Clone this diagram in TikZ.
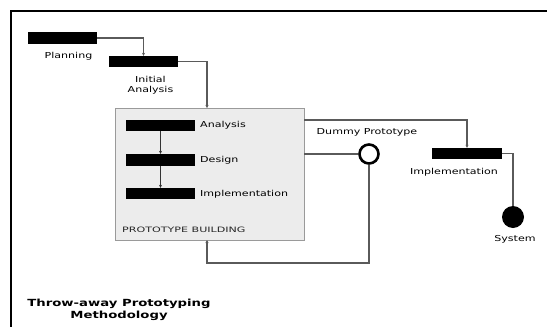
\documentclass[tikz,border=0pt]{standalone}
\usepackage{fontspec}
\setmainfont{DejaVu Sans}
\newfontfamily\diagfont[FakeStretch=1.35]{DejaVu Sans}
\newfontfamily\capsfont[FakeStretch=1.5]{DejaVu Sans}
\usetikzlibrary{arrows.meta}
\definecolor{linegray}{HTML}{5A5A5A}
\definecolor{boxfill}{HTML}{ECECEC}
\definecolor{boxline}{HTML}{9A9A9A}
\begin{document}
\begin{tikzpicture}[x=1pt,y=-1pt,
  bar/.style={fill=black,draw=none,minimum width=69pt,minimum height=11pt,inner sep=0pt},
  conn/.style={draw=linegray,line width=1.1pt},
  arr/.style={conn,-{Stealth[length=3pt,width=3pt]}},
  lbl/.style={font=\diagfont\fontsize{8.2}{9.5}\selectfont,inner sep=0pt,text=black},
  ring/.style={circle,draw=black,line width=2.6pt,fill=white,minimum size=19pt,inner sep=0pt},
  dot/.style={circle,fill=black,minimum size=22pt,inner sep=0pt}]
\useasboundingbox (0,0) rectangle (547,327);
\fill[white] (0,0) rectangle (547,327);
% frame
\draw[black,line width=2.5pt] (11,330) -- (11,11) -- (550,11);
% prototype box
\node[draw=boxline,fill=boxfill,line width=1pt,minimum width=189pt,minimum height=132pt,inner sep=0pt] (box) at (209.5,174) {};
% bars
\node[bar,minimum height=12pt] (plan) at (62.5,38) {};
\node[bar] (init) at (143.5,61.5) {};
\node[bar] (ana) at (160.5,125.5) {};
\node[bar,minimum height=12pt] (des) at (160.5,160) {};
\node[bar] (imp) at (160.5,193.5) {};
\node[bar,minimum width=70pt] (impl) at (467,153.5) {};
% circles
\node[ring] (dummy) at (369,154) {};
\node[dot] (sys) at (513,217) {};
% coordinates on box border
\coordinate (boxtop) at (207,108);
\coordinate (boxbot) at (207,240);
\coordinate (boxr1) at (304,120);
\coordinate (boxr2) at (304,154);
\coordinate (loopc) at (207,263);
% connectors
\draw[arr] (plan.east) -| (init.north);
\draw[arr] (init.east) -| (boxtop);
\draw[arr] (boxr1) -| (impl.north);
\draw[conn] (boxr2) -- (dummy.west);
\draw[arr] (dummy.south) |- (loopc) -- (boxbot);
\draw[conn] (impl.east) -| (sys.north);
\draw[arr,draw=black!80] (ana.south) -- (des.north);
\draw[arr,draw=black!80] (des.south) -- (imp.north);
% labels
\node[lbl] (lplan) at (68.5,56) {Planning};
\node[lbl,align=center] (linit) at (150.5,85) {Initial\\Analysis};
\node[lbl,anchor=west] (lana) at (200,125.5) {Analysis};
\node[lbl,anchor=west] (ldes) at (200,160) {Design};
\node[lbl,anchor=west] (limp) at (200,194) {Implementation};
\node[font=\capsfont\fontsize{7.4}{8}\selectfont,inner sep=0pt,anchor=west,text=black!85] (lpb) at (122,230) {PROTOTYPE BUILDING};
\node[lbl] (ldummy) at (367,132) {Dummy Prototype};
\node[lbl] (limpl) at (454,172) {Implementation};
\node[lbl] (lsys) at (515,239) {System};
\node[font=\diagfont\bfseries\fontsize{9.8}{12}\selectfont,align=center,inner sep=0pt] (title) at (119,310) {Throw-away Prototyping\\Methodology};
\end{tikzpicture}
\end{document}
